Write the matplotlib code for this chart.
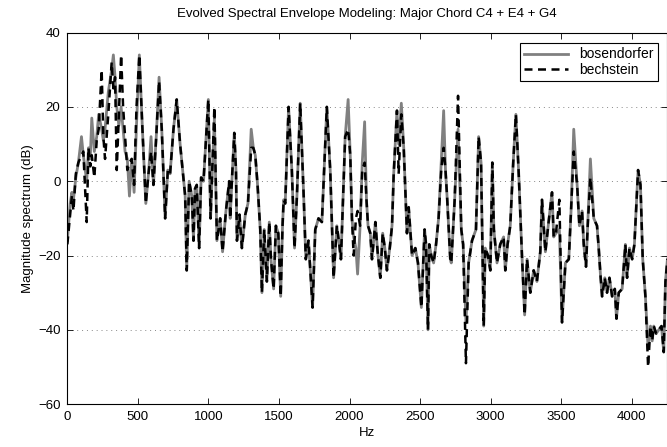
import numpy as np
import matplotlib
matplotlib.use("Agg")
import matplotlib.pyplot as plt

# spectral envelope vertices (Hz, dB)
freq_hz = [
    0, 20, 32, 43, 60, 78, 100, 113, 137, 150, 162, 173, 191, 208, 222, 243,
    255, 267, 290, 314, 326, 338, 350, 365, 381, 395, 409, 425, 440, 456, 473,
    490, 510, 532, 556, 575, 593, 610, 630, 650, 669, 693, 712, 728, 752, 775,
    799, 835, 846, 863, 882, 894, 905, 917, 934, 948, 965, 999, 1015, 1042,
    1060, 1083, 1100, 1124, 1147, 1154, 1166, 1183, 1195, 1202, 1220, 1237,
    1261, 1280, 1303, 1318, 1332, 1348, 1367, 1379, 1395, 1414, 1431, 1443,
    1462, 1478, 1495, 1512, 1525, 1533, 1544, 1568, 1591, 1610, 1627, 1650,
    1674, 1690, 1709, 1738, 1757, 1780, 1804, 1839, 1863, 1887, 1910, 1927,
    1939, 1958, 1969, 1990, 2005, 2017, 2029, 2045, 2057, 2075, 2090, 2107,
    2120, 2131, 2147, 2159, 2183, 2199, 2218, 2235, 2250, 2265, 2285, 2301,
    2313, 2336, 2348, 2367, 2384, 2396, 2407, 2419, 2443, 2466, 2485, 2509,
    2532, 2542, 2556, 2565, 2579, 2596, 2613, 2631, 2650, 2667, 2680, 2691,
    2714, 2721, 2745, 2769, 2792, 2805, 2825, 2844, 2868, 2896, 2915, 2932,
    2951, 2962, 2981, 2998, 3012, 3023, 3045, 3068, 3092, 3104, 3120, 3139,
    3160, 3179, 3198, 3222, 3241, 3258, 3281, 3305, 3328, 3352, 3364, 3388,
    3411, 3435, 3447, 3463, 3487, 3506, 3530, 3554, 3570, 3589, 3613, 3629,
    3648, 3660, 3676, 3688, 3707, 3731, 3754, 3766, 3778, 3790, 3809, 3825,
    3842, 3861, 3880, 3892, 3908, 3932, 3955, 3967, 3984, 4003, 4019, 4045,
    4062, 4078, 4097, 4116, 4133, 4145, 4156, 4173, 4192, 4211, 4227, 4239,
    4253,
]

bosendorfer_db = [
    -16, -6, -3, -5, 1, 5, 12, 7, 0, 9, 6, 17, 8, 12, 18, 14,
    11, 14, 24, 30, 34, 28, 20, 15, 20, 14, 8, 6, -4, 6, -3,
    15, 34, 14, -6, 2, 12, -1, 12, 28, 14, -10, 3, 2, 14, 22,
    10, -4, -24, 0, -4, -16, -2, -1, -18, 1, 0, 22, -10, 17,
    -16, -10, -19, -8, 0, -10, 0, 13, 3, -16, -9, -18,
    -9, -6, 14, 9, 7, -1, -13, -30, -13, -27, -11, -21,
    -29, -12, -14, -31, -12, -5, -6, 20, 3, -18, -4, 21,
    -3, -21, -16, -34, -13, -10, -11, 20, 3, -26, -12, -17,
    -21, 0, 12, 22, 7, -10, -15, -18, -25, -12, 5, 16,
    -5, -12, -14, -21, -11, -19, -26, -14, -18, -24, -18, -12,
    2, 19, 10, 21, 9, -3, -14, -7, -20, -18, -22, -34,
    -13, -17, -40, -17, -20, -22, -17, -10, 5, 19, 3, -4,
    -21, -22, -5, 14, -13, -17, -38, -22, -16, -13, 12, 5,
    -39, -18, -20, -24, 5, -13, -22, -17, -15, -24, -17, -12,
    5, 18, 3, -20, -36, -21, -30, -24, -27, -19, -5, -19,
    -11, -3, -15, -14, -13, -38, -22, -21, -8, 14, -1, -12,
    -8, -17, -23, -12, 6, -10, -12, -18, -25, -31, -26, -30,
    -26, -31, -29, -37, -30, -29, -17, -26, -18, -21, -17, 3,
    -1, -21, -31, -45, -39, -43, -39, -41, -40, -39, -46, -27,
    -21,
]

bechstein_db = [
    -17, -9, -4, -8, 2, 5, 7, 8, -11, 9, 4, 7, 1, 11, 14, 30,
    12, 6, 18, 32, 25, 28, 3, 18, 34, 20, 12, 3, 5, 6, -1,
    20, 34, 14, -6, 2, 8, -1, 12, 27, 14, -10, 3, 2, 14, 22,
    10, -4, -24, 0, -4, -16, -2, -1, -18, 1, 0, 22, -10, 20,
    -16, -10, -19, -8, 0, -10, 0, 13, 3, -16, -9, -18,
    -9, -6, 9, 9, 7, -1, -13, -30, -13, -27, -11, -21,
    -29, -12, -14, -31, -12, -5, -6, 20, 3, -18, -4, 21,
    -3, -21, -16, -34, -13, -10, -11, 20, 3, -26, -12, -17,
    -21, 0, 12, 14, 7, -10, -20, -10, -8, -12, 3, 5,
    -5, -12, -14, -21, -11, -19, -26, -14, -18, -24, -18, -12,
    2, 19, 2, 18, 9, -3, -14, -7, -20, -18, -22, -34,
    -13, -17, -40, -17, -20, -22, -17, -10, 3, 9, 3, -4,
    -21, -22, -5, 23, -13, -17, -49, -22, -16, -13, 12, 5,
    -39, -18, -20, -24, 5, -13, -22, -17, -15, -24, -17, -12,
    5, 18, 3, -20, -36, -21, -30, -24, -27, -19, -5, -19,
    -11, -3, -15, -14, -5, -38, -22, -21, -8, 8, -1, -12,
    -8, -17, -23, -12, 1, -10, -12, -18, -25, -31, -26, -30,
    -26, -31, -29, -37, -30, -29, -17, -26, -18, -21, -17, 3,
    -1, -21, -31, -50, -39, -43, -39, -41, -40, -39, -46, -27,
    -21,
]

x_ticks = [0, 500, 1000, 1500, 2000, 2500, 3000, 3500, 4000]
y_ticks = [-60, -40, -20, 0, 20, 40]

plt.rcParams["font.family"] = ["Liberation Sans", "DejaVu Sans"]
plt.rcParams["font.size"] = 9.5

fig = plt.figure(figsize=(6.67, 4.47), dpi=100)
ax = fig.add_axes([0.101, 0.096, 0.899, 0.831])

ax.plot(freq_hz, bosendorfer_db, color="#808080", lw=2.0, label="bosendorfer")
ax.plot(freq_hz, bechstein_db, color="black", lw=1.8, linestyle=(0, (3.2, 2.2)),
        label="bechstein")

ax.set_xlim(0, 4250)
ax.set_ylim(-60, 40)
ax.set_xticks(x_ticks)
ax.set_yticks(y_ticks)
ax.tick_params(direction="in", top=True, right=True, length=4, width=0.6, pad=5)
ax.yaxis.grid(True, linestyle=(0, (1, 4)), color="#888888", lw=0.7)
for s in ax.spines.values():
    s.set_linewidth(0.8)

ax.set_title("Evolved Spectral Envelope Modeling: Major Chord C4 + E4 + G4",
             fontsize=9.5, pad=11)
ax.set_xlabel("Hz", labelpad=3)
ax.set_ylabel("Magnitude spectrum (dB)", labelpad=3)

leg = ax.legend(loc="upper right", fancybox=False, edgecolor="black", framealpha=1,
                borderpad=0.3, handlelength=3.2, labelspacing=0.1, fontsize=10,
                bbox_to_anchor=(0.997, 0.99))
leg.get_frame().set_linewidth(0.8)

fig.savefig("out.png", dpi=100)
